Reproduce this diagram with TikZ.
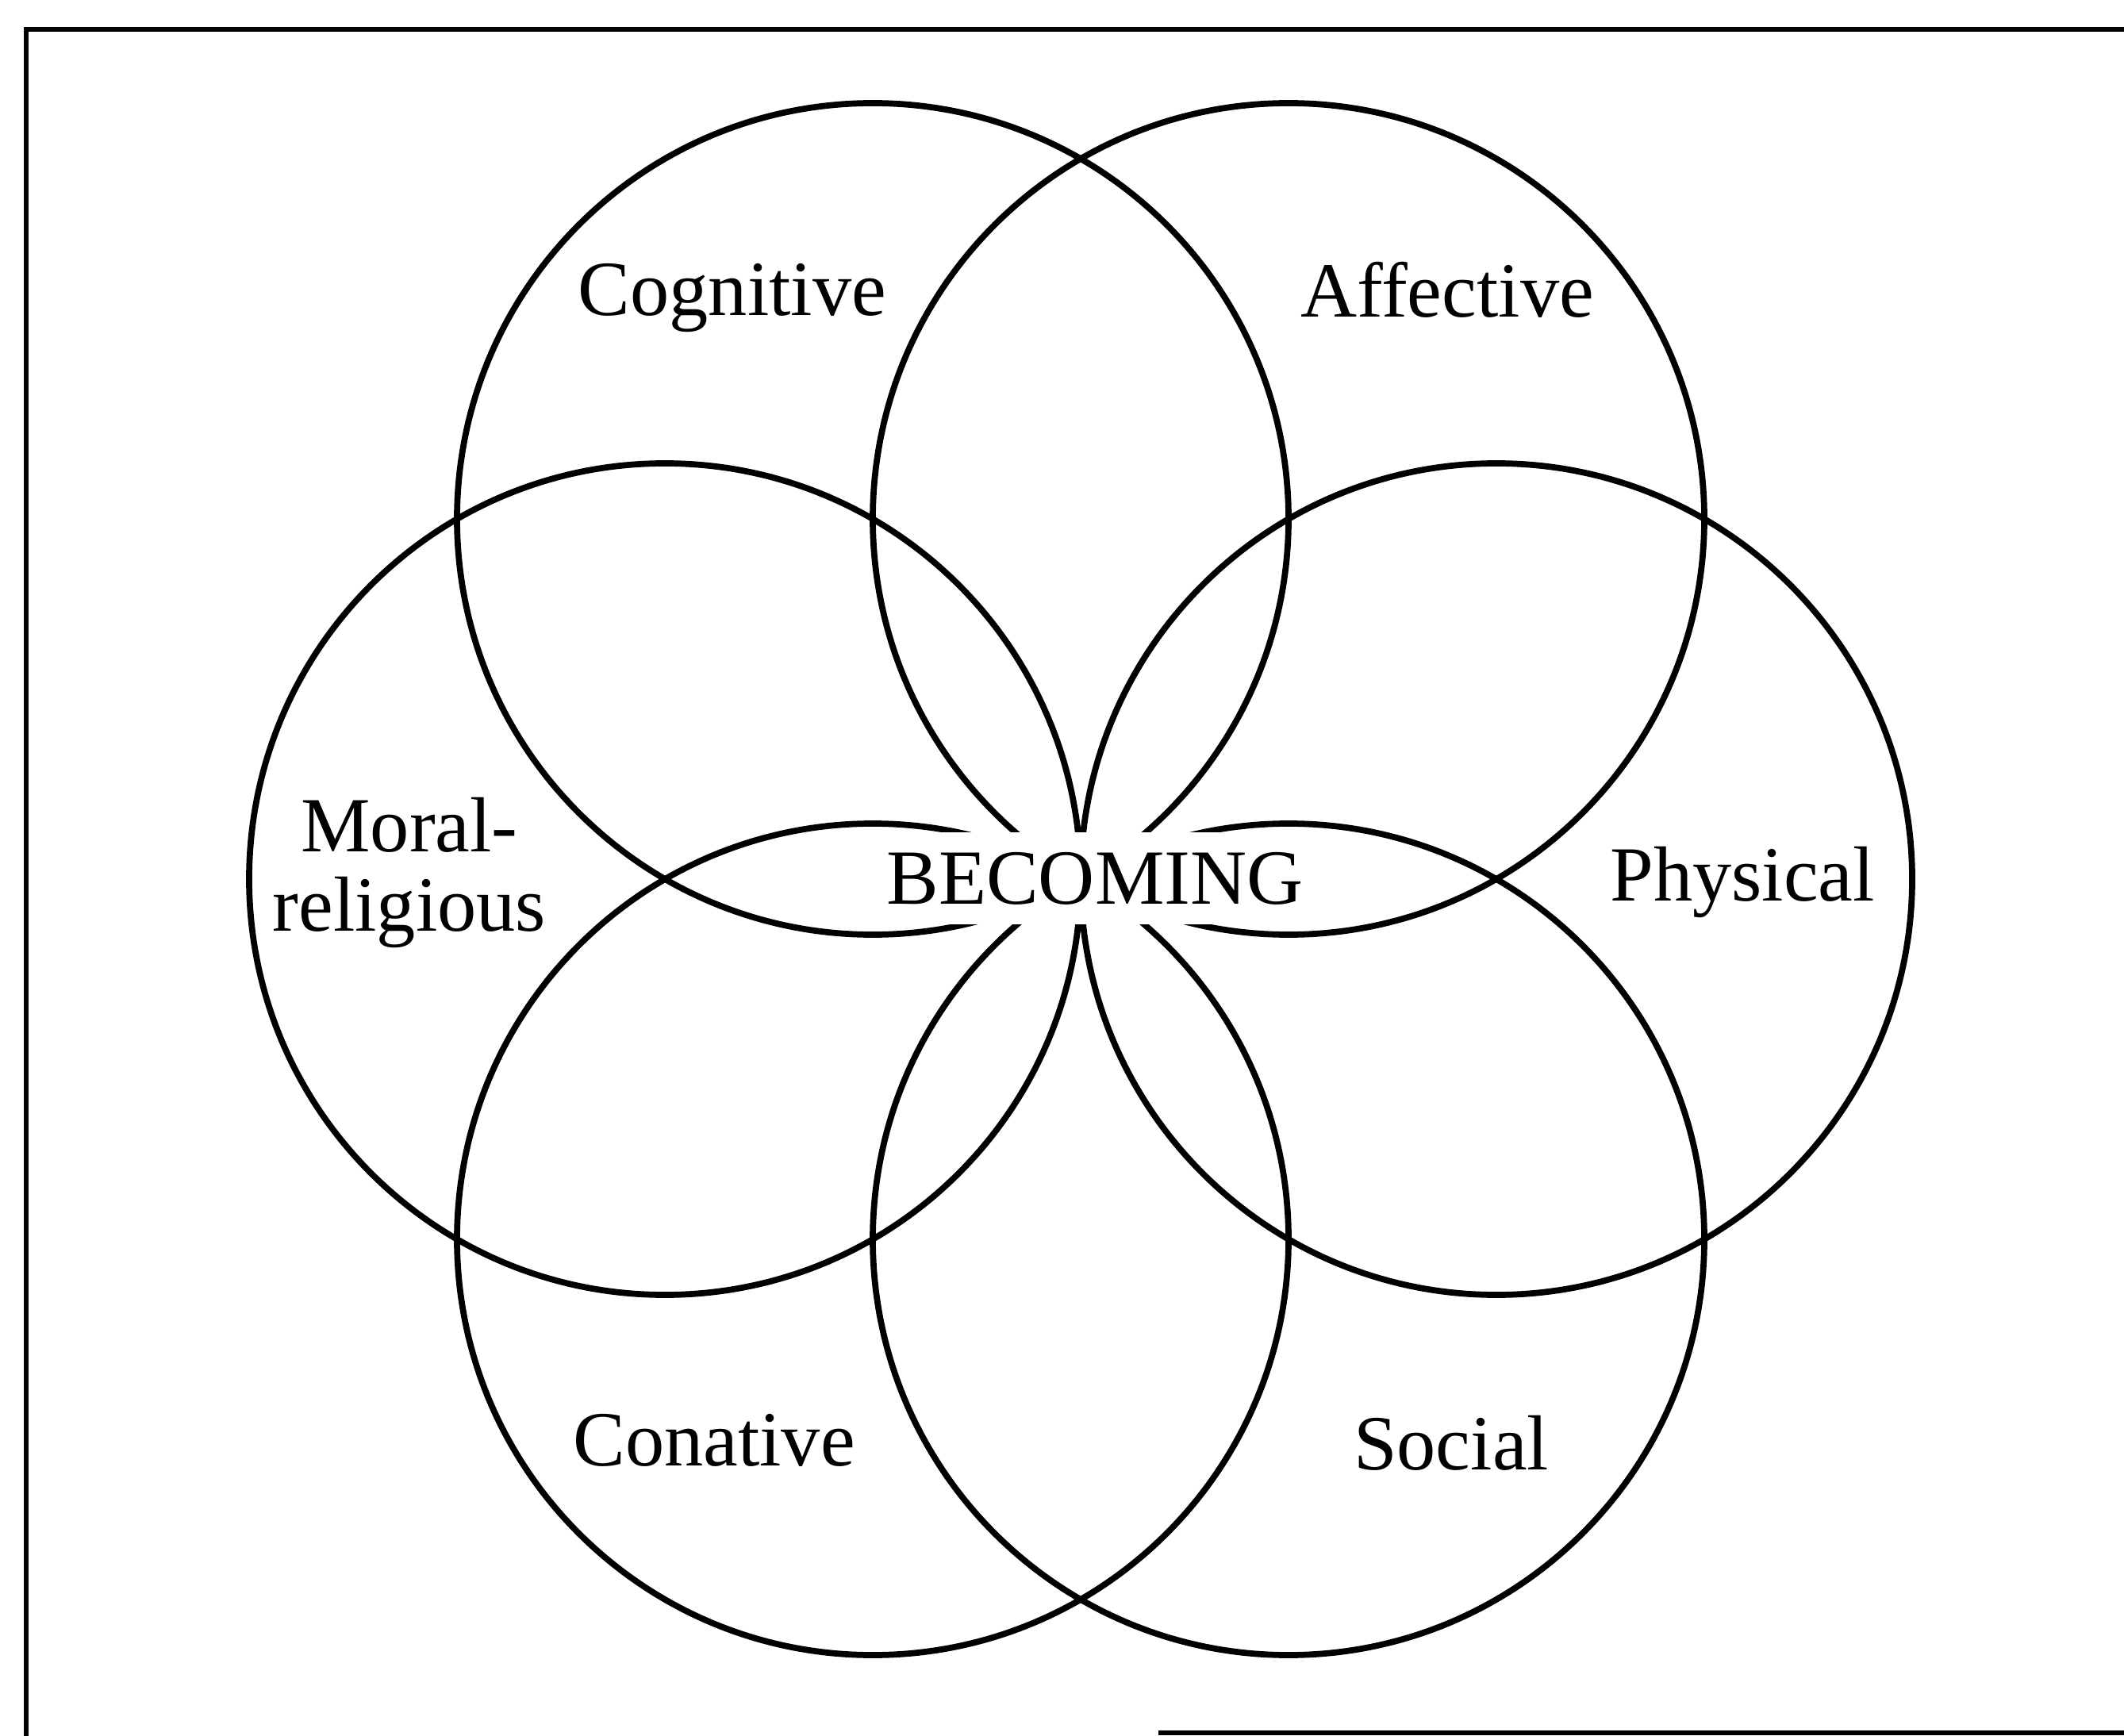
\documentclass[tikz,border=0pt]{standalone}
\usepackage{fontspec}
\setmainfont{Liberation Serif}

\begin{document}
\begin{tikzpicture}[
        aro/.style={
            circle,
            draw=black,
            line width=2.2pt,
            minimum size=10.48cm,
            inner sep=0pt
        },
        etiqueta/.style={
            font=\fontsize{28}{28.2}\selectfont,
            align=center,
            inner sep=0pt
        },
        centro/.style={
            etiqueta,
            fill=white,
            minimum height=1.16cm,
            inner xsep=4pt
        },
        marco/.style={line width=1.6pt, draw=black}
    ]
        \useasboundingbox (0,0) rectangle (26.77,21.87);

        \draw[marco] (27.5,21.5) -- (0.33,21.5) -- (0.33,-0.5);
        \draw[marco] (14.6,0.03) -- (27.5,0.03);

        \node[aro] (cognitive) at (11.00,15.33) {};
        \node[aro] (affective) at (16.24,15.33) {};
        \node[aro] (physical) at (18.86,10.79) {};
        \node[aro] (social) at (16.24,6.25) {};
        \node[aro] (conative) at (11.00,6.25) {};
        \node[aro] (moral) at (8.38,10.79) {};

        \node[centro] (becoming) at (13.80,10.80) {BECOMING};

        \node[etiqueta, anchor=base] (cognitivetxt) at (9.23,17.89) {Cognitive};
        \node[etiqueta, anchor=base] (affectivetxt) at (18.24,17.87) {Affective};
        \node[etiqueta] (moraltxt) at (5.16,10.87) {Moral-\\religious};
        \node[etiqueta, anchor=base] (physicaltxt) at (21.96,10.52) {Physical};
        \node[etiqueta, anchor=base] (conativetxt) at (9.00,3.40) {Conative};
        \node[etiqueta, anchor=base] (socialtxt) at (18.29,3.35) {Social};
    \end{tikzpicture}
\end{document}
